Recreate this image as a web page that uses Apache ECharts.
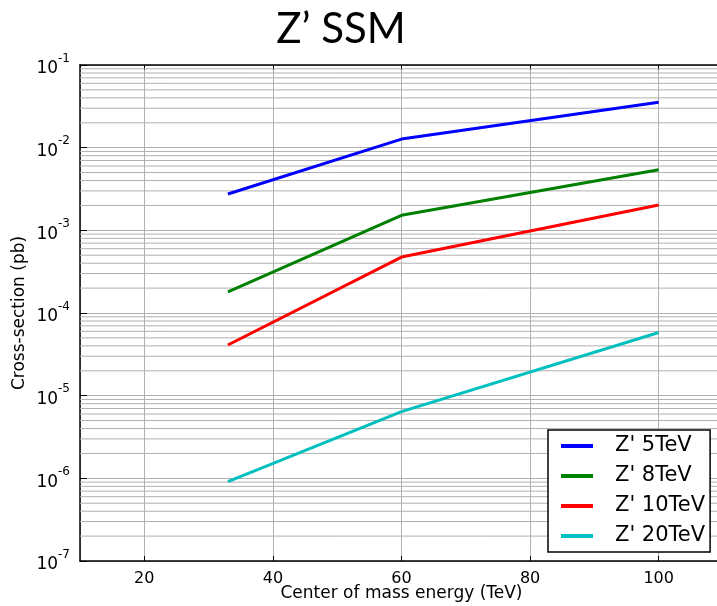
<!DOCTYPE html>
<html><head><meta charset="utf-8">
<script src="https://cdn.jsdelivr.net/npm/echarts@6/dist/echarts.min.js"></script>
<style>html,body{margin:0;padding:0;background:#fff}#c{width:717px;height:606px}</style>
</head><body><div id="c"></div>
<script>
var energies = [33, 60, 100];
var seriesNames = ["Z' 5TeV", "Z' 8TeV", "Z' 10TeV", "Z' 20TeV"];
var z5 = [2.75e-3, 1.27e-2, 3.55e-2];
var z8 = [1.8e-4, 1.52e-3, 5.4e-3];
var z10 = [4.1e-5, 4.75e-4, 2.03e-3];
var z20 = [9.1e-7, 6.4e-6, 5.8e-5];
var colors = ['#0000ff', '#008000', '#ff0000', '#00bfbf'];
var xRange = [10, 110];
var yDecades = [1e-7, 1e-6, 1e-5, 1e-4, 1e-3, 1e-2, 1e-1];
var minorMult = [2, 3, 4, 5, 6, 7, 8, 9];

function pairs(vals) { return energies.map(function (x, i) { return [x, vals[i]]; }); }
var allVals = [z5, z8, z10, z20];
var font = 'DejaVu Sans';

var series = [];
for (var d = 0; d < yDecades.length - 1; d++) {
  for (var m = 0; m < minorMult.length; m++) {
    var v = yDecades[d] * minorMult[m];
    series.push({
      type: 'line', silent: true, z: 1, symbol: 'none', showSymbol: false,
      data: [[xRange[0], v], [xRange[1], v]],
      lineStyle: { color: '#b0b0b0', width: 1 }
    });
  }
}
seriesNames.forEach(function (n, i) {
  series.push({
    name: n, type: 'line', data: pairs(allVals[i]), showSymbol: false, symbol: 'none',
    lineStyle: { color: colors[i], width: 3 }, itemStyle: { color: colors[i] }, z: 3
  });
});

var chart = echarts.init(document.getElementById('c'));
chart.setOption({
  animation: false,
  backgroundColor: '#fff',
  title: {
    text: 'Z\u2019 SSM', left: 336, top: 3, textAlign: 'center',
    textStyle: { fontFamily: 'Lato', fontSize: 42, fontWeight: 'normal', color: '#000' }
  },
  grid: { left: 80, top: 65, right: -6, bottom: 45, outerBoundsMode: 'none', containLabel: false },
  legend: {
    orient: 'vertical', left: 548, top: 430,
    data: seriesNames.map(function (n, i) { return { name: n, icon: 'rect', itemStyle: { color: colors[i] } }; }),
    itemWidth: 32, itemHeight: 4, itemGap: 8,
    padding: [5, 5, 5, 13],
    borderColor: '#000', borderWidth: 1.5, borderRadius: 0, backgroundColor: '#fff',
    textStyle: { fontFamily: font, fontSize: 21, color: '#000', padding: [0, 0, 0, 17], lineHeight: 22 }
  },
  xAxis: [{
    type: 'value', min: xRange[0], max: xRange[1], splitNumber: 5,
    name: 'Center of mass energy (TeV)', nameLocation: 'middle', nameGap: 24, nameMoveOverlap: false,
    nameTextStyle: { fontFamily: font, fontSize: 17, color: '#000' },
    axisLine: { lineStyle: { color: '#000', width: 1.5 } },
    axisTick: { inside: true, length: 5, lineStyle: { color: '#000' } },
    axisLabel: { showMinLabel: false, showMaxLabel: false, fontFamily: font, fontSize: 16, color: '#000', margin: 10 },
    splitLine: { show: true, lineStyle: { color: '#b0b0b0', width: 1 } }
  }, {
    type: 'value', min: xRange[0], max: xRange[1], splitNumber: 5, position: 'top',
    axisLine: { lineStyle: { color: '#000', width: 1.5 } },
    axisTick: { inside: true, length: 5, lineStyle: { color: '#000' } },
    axisLabel: { show: false }, splitLine: { show: false }
  }],
  yAxis: {
    type: 'log', logBase: 10, min: 1e-7, max: 1e-1, interval: 1,
    name: 'Cross-section (pb)', nameLocation: 'middle', nameGap: 52, nameRotate: 90, nameMoveOverlap: false,
    nameTextStyle: { fontFamily: font, fontSize: 17, color: '#000' },
    axisLine: { show: true, lineStyle: { color: '#000', width: 1.5 } },
    axisTick: { inside: true, length: 7, lineStyle: { color: '#000' } },
    axisLabel: {
      margin: 10,
      formatter: function (v) {
        var e = Math.round(Math.log10(v));
        return '{b|10}{s|' + e + '}';
      },
      rich: {
        b: { fontFamily: font, fontSize: 17, color: '#000', verticalAlign: 'bottom', padding: [8, 0, 0, 0] },
        s: { fontFamily: font, fontSize: 12, color: '#000', verticalAlign: 'top', padding: [0, 0, 8, 0] }
      }
    },
    splitLine: { show: true, lineStyle: { color: '#b0b0b0', width: 1 } }
  },
  series: series
});
</script></body></html>
